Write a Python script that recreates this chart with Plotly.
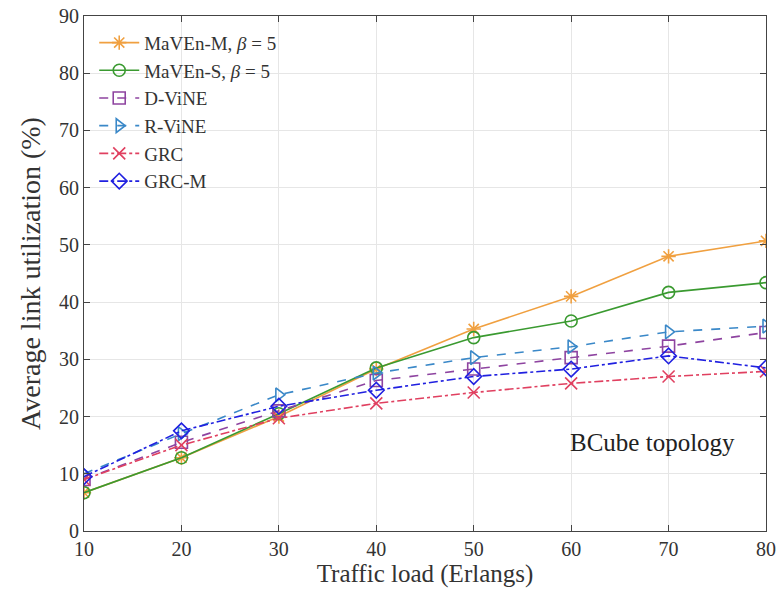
import plotly.graph_objects as go

loads = [10, 20, 30, 40, 50, 60, 70, 80]
maven_m = [6.7, 12.8, 20.0, 28.3, 35.3, 41.0, 48.0, 50.7]
maven_s = [6.7, 12.8, 20.5, 28.5, 33.8, 36.7, 41.7, 43.4]
d_vine = [9.0, 15.5, 21.0, 26.3, 28.3, 30.3, 32.3, 34.7]
r_vine = [10.0, 17.0, 23.8, 27.6, 30.3, 32.2, 34.8, 35.8]
grc = [9.0, 15.0, 19.7, 22.3, 24.2, 25.8, 27.0, 27.9]
grc_m = [9.5, 17.5, 21.8, 24.6, 27.0, 28.3, 30.6, 28.5]

series = [
    ("MaVEn-M, <i>β</i> = 5", maven_m, "#F0A040", "solid", "asterisk-open"),
    ("MaVEn-S, <i>β</i> = 5", maven_s, "#3A9A30", "solid", "circle-open"),
    ("D-ViNE", d_vine, "#8E44A0", "dash", "square-open"),
    ("R-ViNE", r_vine, "#3A88C8", "dash", "triangle-right-open"),
    ("GRC", grc, "#E04060", "dashdot", "x-thin-open"),
    ("GRC-M", grc_m, "#2020E0", "dashdot", "diamond-open"),
]

fig = go.Figure()
for name, vals, color, dash, sym in series:
    fig.add_trace(go.Scatter(
        x=loads, y=vals, name=name, mode="lines+markers",
        line=dict(color=color, width=1.6, dash=dash),
        marker=dict(symbol=sym, size=12, color=color, line=dict(color=color, width=1.6)),
    ))

font_fam = "Liberation Serif, DejaVu Serif, serif"
fig.update_layout(
    width=779, height=595,
    margin=dict(l=84, r=13, t=16, b=64),
    plot_bgcolor="white", paper_bgcolor="white",
    font=dict(family=font_fam, size=20, color="#333"),
    showlegend=True,
    legend=dict(x=0.015, y=0.985, xanchor="left", yanchor="top",
                bgcolor="rgba(0,0,0,0)", font=dict(size=19, family=font_fam, color="#333"),
                itemwidth=40, tracegroupgap=0),
    xaxis=dict(range=[10, 80], dtick=10, tick0=10, showgrid=True, gridcolor="#E6E6E6",
               showline=True, linecolor="#444", mirror="ticks", ticks="inside", ticklen=6,
               tickcolor="#444", automargin=False, ticklabeloverflow="allow",
               title=dict(text="Traffic load (Erlangs)", font=dict(size=25), standoff=0),
               zeroline=False),
    yaxis=dict(range=[0, 90], dtick=10, showgrid=True, gridcolor="#E6E6E6",
               showline=True, linecolor="#444", mirror="ticks", ticks="inside", ticklen=6,
               tickcolor="#444", automargin=False, ticklabeloverflow="allow",
               title=dict(text="Average link utilization (%)", font=dict(size=28), standoff=10),
               zeroline=False),
    annotations=[dict(x=68.4, y=15.4, xref="x", yref="y", text="BCube topology",
                      showarrow=False, font=dict(size=25, family=font_fam, color="#222"))],
)

fig.write_html("out.html", config={"displayModeBar": False},
               post_script="document.body.style.margin='0px';document.body.style.overflow='hidden';")
